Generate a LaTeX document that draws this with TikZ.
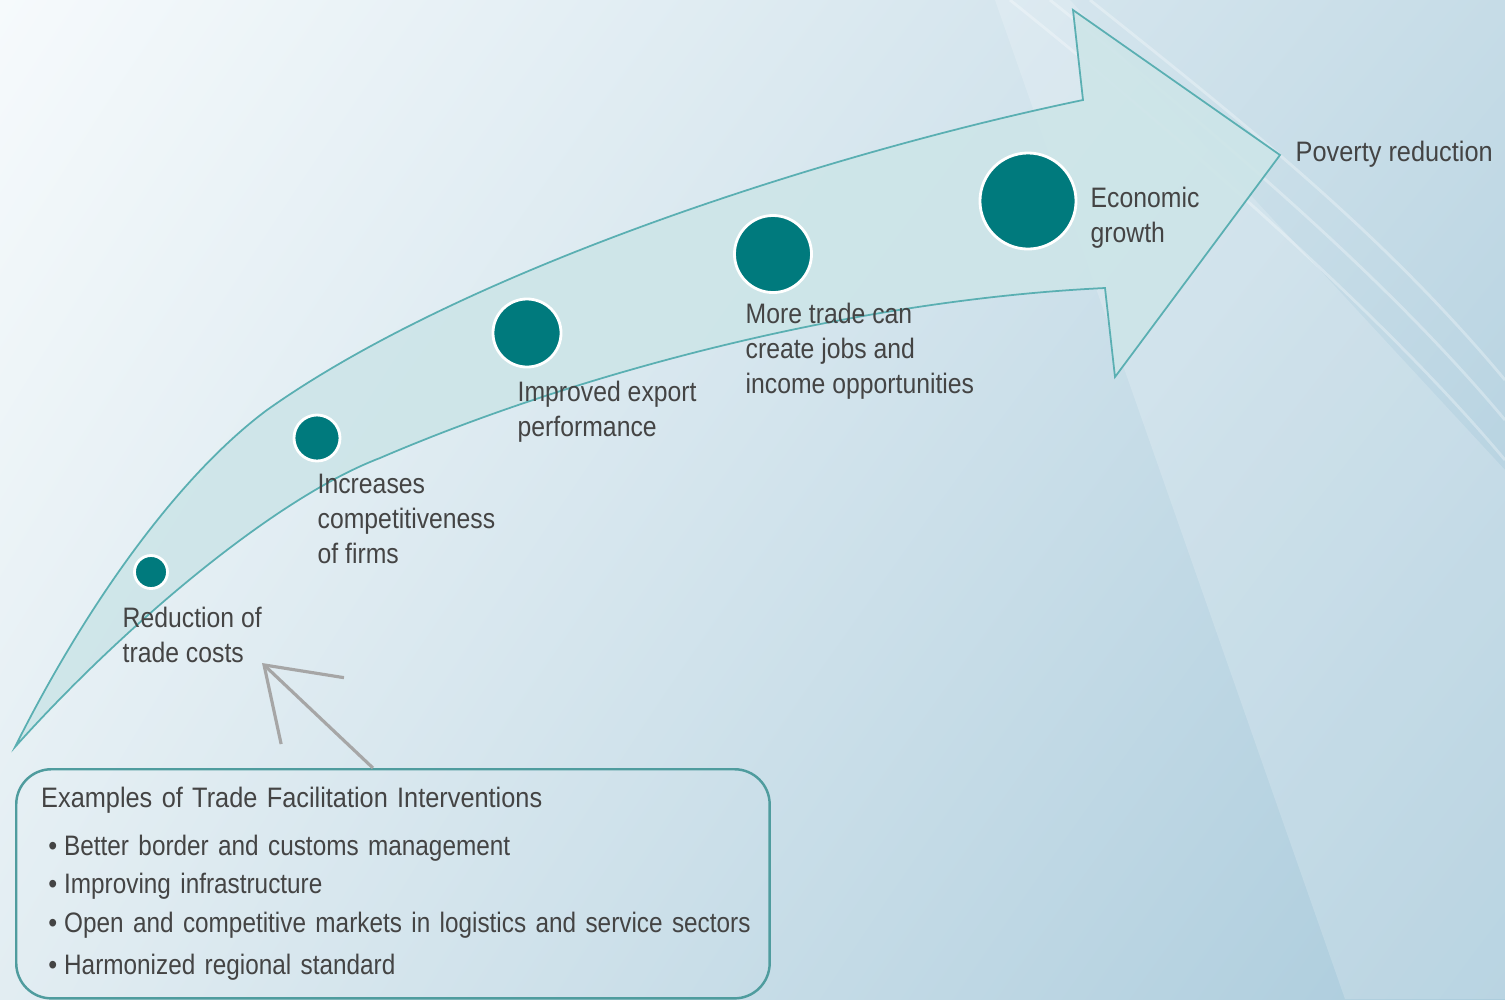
\documentclass[tikz,border=0pt]{standalone}
\usepackage{fontspec}
\setmainfont{Liberation Sans}[FakeStretch=0.9]
\newfontfamily\labelfont{Liberation Sans}[FakeStretch=0.88]
\newfontfamily\listfont{Liberation Sans}[FakeStretch=0.865]
\usepackage{tikz}
\usetikzlibrary{arrows.meta, positioning, calc, shadings}
\definecolor{bgtl}{HTML}{F6FAFC}
\definecolor{bgtr}{HTML}{C6DCE7}
\definecolor{bgbl}{HTML}{E2EDF2}
\definecolor{bgbr}{HTML}{AACBDC}
\definecolor{bodycyan}{HTML}{CDE5E8}
\definecolor{edgeteal}{HTML}{5AAFB2}
\definecolor{dotteal}{HTML}{007A7D}
\definecolor{labelgray}{HTML}{444444}
\definecolor{boxteal}{HTML}{4F9C9E}
\definecolor{pointergray}{HTML}{A6A6A6}
\tikzset{%
	stepdot/.style={draw=white, line width=0.8pt, circle, inner sep=0mm, fill=dotteal, minimum size=#1},
	steplabel/.style={anchor=north west, inner sep=0mm, align=left, text=labelgray,%
		font=\labelfont\fontsize{8}{10}\selectfont},
	body/.style={draw=edgeteal, line width=0.5pt, fill=bodycyan, fill opacity=0.9},
	listbox/.style={draw=boxteal, line width=0.7pt, rounded corners=10pt, inner xsep=0.25cm,%
		inner ysep=0mm, text width=7.03cm, minimum height=2.29cm, align=left, text=labelgray,%
		font=\fontsize{8}{11}\selectfont},
	pointer/.style={draw=pointergray, line width=0.9pt, -{Straight Barb[length=19pt, width=26pt]}},
	streak/.style={white, line width=0.8pt, opacity=0.3}
}
\newcommand{\bulletline}[1]{\mbox{\hspace{2pt}\textbullet\hspace{2pt}{\listfont #1}}}

\begin{document}
\begin{tikzpicture}[x=0.01cm, y=-0.01cm]
	\useasboundingbox (0,0) rectangle (1505,999);
	% backdrop
	\shade[upper left=bgtl, upper right=bgtr, lower left=bgbl, lower right=bgbr] (0,0) rectangle (1505,999);
	\fill[white, opacity=0.18] (995,0) -- (1070,0) -- (1505,470) -- (1505,999) -- (1345,999) -- cycle;
	\foreach \sx/\ey in {1010/460, 1050/420, 1090/380}
		\draw[streak] (\sx,0) .. controls (\sx+150,120) and (1380,\ey-150) .. (1505,\ey);

	% curved arrow
	\draw[body] (15,747) .. controls (85,607) and (177,477) .. (267,410)
		.. controls (467,268) and (833,152) .. (1083,100)
		-- (1073,10) -- (1280,155) -- (1115,377) -- (1105,288)
		.. controls (855,300) and (580,372) .. (380,458)
		.. controls (270,500) and (115,635) .. (15,747) -- cycle;

	\node[stepdot=0.33cm] (d1) at (151,572) {};
	\node[stepdot=0.46cm] (d2) at (317,438) {};
	\node[stepdot=0.68cm] (d3) at (527,333) {};
	\node[stepdot=0.77cm] (d4) at (773,254) {};
	\node[stepdot=0.96cm] (d5) at (1028,201) {};

	\node[steplabel] (cost) at (122,606) {Reduction of\\trade costs};
	\node[steplabel] (compet) at (317,473) {Increases\\competitiveness\\of firms};
	\node[steplabel] (export) at (517,380) {Improved export\\performance};
	\node[steplabel] (jobs) at (745,302) {More trade can\\create jobs and\\income opportunities};
	\node[steplabel] (growth) at (1090,186) {Economic\\growth};
	\node[steplabel, font=\fontsize{8}{10}\selectfont] (poverty) at (1295,140) {Poverty reduction};

	% interventions
	\node[listbox, anchor=north west] (examples) at (15,768) {Examples of Trade Facilitation Interventions\\[2.6pt]
		\bulletline{Better border and customs management}\\
		\bulletline{Improving infrastructure}\\
		\bulletline{Open and competitive markets in logistics and service sectors}\\[1pt]
		\bulletline{Harmonized regional standard}};

	\coordinate (pfoot) at ($(examples.north)+(-20,0)$);
	\coordinate (ptip) at (262,663);
	\draw[pointer] (pfoot) -- (ptip);
\end{tikzpicture}
\end{document}
